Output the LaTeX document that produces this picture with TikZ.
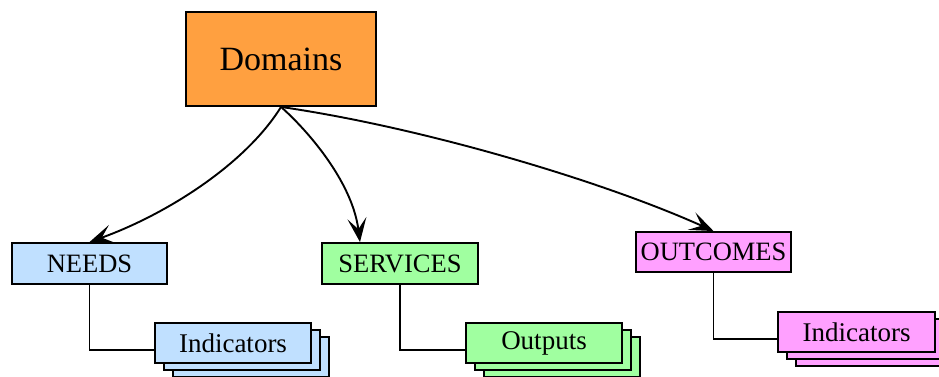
\documentclass[tikz,border=0pt]{standalone}
\usepackage{fontspec}
\setmainfont{Liberation Serif}
\usetikzlibrary{arrows.meta,shadows,calc}

\definecolor{domorange}{HTML}{FFA040}
\definecolor{needblue}{HTML}{C0E0FF}
\definecolor{servgreen}{HTML}{A0FFA0}
\definecolor{outpink}{HTML}{FFA0FF}

\tikzset{
  box/.style={draw=black, line width=1.9pt, inner sep=0pt, anchor=center,
    font=\fontsize{26.5}{30}\selectfont},
  stack/.style={box, minimum width=156pt, minimum height=40pt,
    font=\fontsize{27}{30}\selectfont,
    double copy shadow={shadow xshift=9pt, shadow yshift=-7pt,
      fill=#1, draw=black, line width=1.9pt}, fill=#1},
  arr/.style={line width=1.9pt,
    -{Stealth[length=24pt, width=19pt, inset=11pt]}},
  link/.style={line width=1.9pt}
}

\begin{document}
\begin{tikzpicture}[x=1pt, y=-1pt]
\useasboundingbox (0,0) rectangle (939,377);

% top-level node
\node[box, fill=domorange, minimum width=190pt, minimum height=94pt,
  font=\fontsize{34}{38}\selectfont] (dom) at (281,59) {Domains};

% second level
\node[box, fill=needblue, minimum width=155pt, minimum height=41pt] (needs) at (89.5,263.5) {NEEDS};
\node[box, fill=servgreen, minimum width=156pt, minimum height=41pt] (serv) at (400,263.5) {SERVICES};
\node[box, fill=outpink, minimum width=155pt, minimum height=40pt] (outc) at (713.5,252) {OUTCOMES};

% stacked leaves
\node[stack=needblue] (needind) at (233,343) {Indicators};
\node[stack=servgreen] (outp) at (544,343) {Outputs};
\node[stack=outpink, minimum width=157pt] (outind) at (856.5,332) {Indicators};

% curved arrows from the top node
\draw[arr] (dom.south) .. controls (245,165) and (165,215) .. (needs.north);
\draw[arr] (dom.south) .. controls (305,128) and (352,180) .. ([xshift=-40pt]serv.north);
\draw[arr] (dom.south) .. controls (420,127) and (600,180) .. (outc.north);

% elbow links to the stacks
\draw[link] (needs.south) |- ($(needind.west)+(0,7)$);
\draw[link] (serv.south) |- ($(outp.west)+(0,7)$);
\draw[link] (outc.south) |- ($(outind.west)+(0,7)$);
\end{tikzpicture}
\end{document}
